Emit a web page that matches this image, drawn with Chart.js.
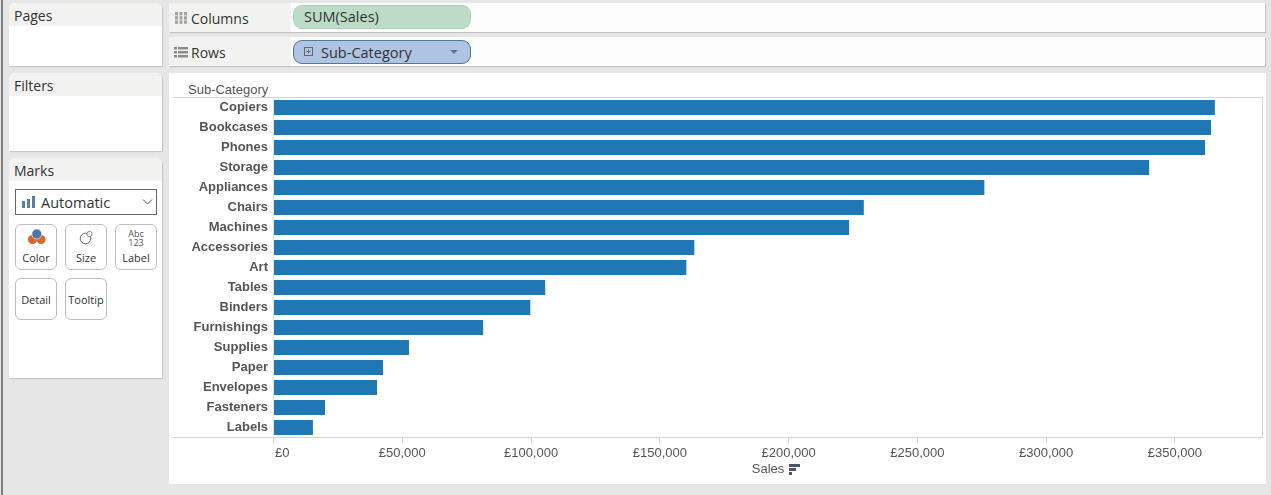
<!DOCTYPE html>
<html><head><meta charset="utf-8">
<script src="https://cdn.jsdelivr.net/npm/chart.js@4"></script>
<style>
html,body{margin:0;padding:0;width:1271px;height:495px;overflow:hidden;background:#e6e6e6;font-family:"Open Sans","Noto Sans",sans-serif;color:#333}
.a{position:absolute;box-sizing:border-box}
.panel{background:#fff;border-radius:6px 6px 0 0;box-shadow:1px 1px 1px #c4c4c4}
.head{left:0;top:0;right:0;background:#f2f2f0;border-radius:6px 6px 0 0;padding-left:5px;font-size:14px;line-height:26px;color:#333}
.shelf{background:#fdfdfd;box-shadow:1px 1px 1px #c4c4c4;left:169px;width:1096px}
.shelfhead{left:0;top:0;bottom:0;width:122px;background:#f2f2f0;font-size:14px;line-height:32px;padding-left:22px;color:#333}
.pill{left:293px;width:178px;border-radius:9px;font-size:14.5px;color:#333;white-space:nowrap}
.card{width:42px;border:1px solid #bdbdbd;border-radius:6px;background:#fff;font-size:11px;text-align:center;color:#333}
.card span{position:absolute;left:0;right:0}
.line{background:#d4d4d4}
svg{position:absolute;display:block}
</style></head><body>
<div class="a" style="left:1px;top:0;width:2px;height:495px;background:#7f7f7f"></div>

<div class="a panel" style="left:9px;top:3px;width:153px;height:63px"><div class="a head" style="height:23px">Pages</div></div>
<div class="a panel" style="left:9px;top:73px;width:153px;height:78px"><div class="a head" style="height:23px">Filters</div></div>
<div class="a panel" style="left:9px;top:158px;width:153px;height:220px"><div class="a head" style="height:23px">Marks</div></div>

<div class="a" style="left:15px;top:189px;width:142px;height:26px;background:#fff;border:1px solid #666;font-size:14.5px;line-height:25px;padding-left:25px;color:#333">Automatic</div>
<svg style="left:21px;top:196px" width="15" height="13"><rect x="1" y="5" width="3" height="7" fill="#5b7f9e"/><rect x="6" y="3" width="3" height="9" fill="#5b7f9e"/><rect x="11" y="0" width="3" height="12" fill="#5b7f9e"/></svg>
<svg style="left:142px;top:198px" width="12" height="8"><path d="M1 1.5L5.5 6L10 1.5" fill="none" stroke="#555" stroke-width="1"/></svg>

<div class="a card" style="left:15px;top:224px;height:46px"><span style="top:25px">Color</span></div>
<svg style="left:28px;top:229px" width="18" height="16"><circle cx="4.5" cy="10.5" r="4.5" fill="#d9662b"/><circle cx="13" cy="10.5" r="4.5" fill="#d9662b"/><circle cx="8.8" cy="5" r="5" fill="#4e79a7" stroke="#fff" stroke-width="0.6"/></svg>
<div class="a card" style="left:65px;top:224px;height:46px"><span style="top:25px">Size</span></div>
<svg style="left:79px;top:230px" width="15" height="15"><circle cx="6.5" cy="8.5" r="5.3" fill="#fff" stroke="#666"/><circle cx="10.5" cy="4" r="2.6" fill="#fff" stroke="#666" stroke-width=".8"/></svg>
<div class="a card" style="left:115px;top:224px;height:46px"><span style="top:25px">Label</span><span style="top:4px;font-size:9px;line-height:9px;height:9px;color:#555">Abc</span><span style="top:13px;font-size:9px;line-height:9px;height:9px;color:#555">123</span></div>
<div class="a card" style="left:15px;top:278px;height:42px"><span style="top:13px">Detail</span></div>
<div class="a card" style="left:65px;top:278px;height:42px"><span style="top:13px">Tooltip</span></div>

<div class="a shelf" style="top:3px;height:29px"><div class="a shelfhead">Columns</div></div>
<svg style="left:175px;top:12px" width="12" height="13"><g fill="#a3a3a3"><rect x="0" y="0" width="3" height="3.4"/><rect x="4.5" y="0" width="3" height="3.4"/><rect x="9" y="0" width="3" height="3.4"/><rect x="0" y="4.2" width="3" height="3.4"/><rect x="4.5" y="4.2" width="3" height="3.4"/><rect x="9" y="4.2" width="3" height="3.4"/><rect x="0" y="8.4" width="3" height="3.4"/><rect x="4.5" y="8.4" width="3" height="3.4"/><rect x="9" y="8.4" width="3" height="3.4"/></g></svg>
<div class="a pill" style="top:5px;height:24px;background:#bcdcc8;border:1px solid #aed2bb;line-height:21px;padding-left:10px">SUM(Sales)</div>

<div class="a shelf" style="top:37px;height:29px"><div class="a shelfhead">Rows</div></div>
<svg style="left:174px;top:47px" width="14" height="11"><g fill="#8c8c8c"><rect x="0" y="0" width="3" height="2.5"/><rect x="4" y="0" width="10" height="2.5"/><rect x="0" y="4" width="3" height="2.5"/><rect x="4" y="4" width="10" height="2.5"/><rect x="0" y="8" width="3" height="2.5"/><rect x="4" y="8" width="10" height="2.5"/></g></svg>
<div class="a pill" style="top:40px;height:24px;background:#aec4e2;border:1px solid #4f7a9a;line-height:23px;padding-left:27px">Sub-Category</div>
<svg style="left:304px;top:47px" width="10" height="10"><rect x=".5" y=".5" width="8" height="8" fill="none" stroke="#666"/><path d="M2.5 4.5h4M4.5 2.5v4" stroke="#666"/></svg>
<svg style="left:450px;top:50px" width="9" height="5"><path d="M0 0h8L4 4z" fill="#4f7a9a"/></svg>

<div class="a" style="left:169px;top:73px;width:1097px;height:411px;background:#fff"></div>
<div class="a" style="left:188px;top:82px;font:13px 'Liberation Sans',Arial,sans-serif;line-height:15px;color:#555">Sub-Category</div>
<div class="a line" style="left:173px;top:97px;width:1090px;height:1px"></div>
<div class="a line" style="left:173px;top:437px;width:1090px;height:1px"></div>
<div class="a line" style="left:1262px;top:97px;width:1px;height:341px"></div>

<canvas id="c" class="a" width="1093" height="410" style="left:170px;top:74px;width:1093px;height:410px"></canvas>
<svg style="left:789px;top:464px" width="12" height="12"><g fill="#4a5568"><rect x="0" y="0" width="11" height="3"/><rect x="0" y="4" width="7" height="3"/><rect x="0" y="8" width="3" height="3"/></g></svg>

<script>
const categories = ["Copiers","Bookcases","Phones","Storage","Appliances","Chairs","Machines","Accessories","Art","Tables","Binders","Furnishings","Supplies","Paper","Envelopes","Fasteners","Labels"];
const sales = [365500,364000,361700,340000,276000,229200,223500,163400,160300,105500,99700,81400,52600,42500,40200,20000,15300];
const axisMax = 384000;
const tickValues = [0,50000,100000,150000,200000,250000,300000,350000];
const axisTitle = "Sales";

const shiftFirstLabel = {
  id: 'shiftFirstLabel',
  beforeDraw(chart) {
    const s = chart.scales.x;
    const items = s.getLabelItems();
    if (items.length) {
      items[0].options.textAlign = 'left';
      items[0].options.translation[0] = s.getPixelForValue(0) + 1.5;
    }
  }
};

new Chart(document.getElementById('c'), {
  type: 'bar',
  data: { labels: categories, datasets: [{ label: 'Sales', data: sales, backgroundColor: '#1f77b4', borderWidth: 0, barPercentage: 0.75, categoryPercentage: 1 }] },
  plugins: [shiftFirstLabel],
  options: {
    indexAxis: 'y', responsive: false, animation: false, devicePixelRatio: 1,
    layout: { padding: { top: 23.5, right: 0.5, left: 0, bottom: 0 } },
    plugins: { legend: { display: false }, tooltip: { enabled: false } },
    scales: {
      x: {
        min: 0, max: axisMax,
        afterBuildTicks(s) { s.ticks = tickValues.map(v => ({ value: v })); },
        afterFit(s) { s.height = 46.5; s.paddingLeft = 0; s.paddingRight = 0; },
        grid: { drawOnChartArea: false, drawTicks: true, tickLength: 5, color: '#d4d4d4' },
        border: { display: false },
        ticks: { maxRotation: 0, autoSkip: false, padding: 3, color: '#555',
          font: { family: '"Liberation Sans",Arial,sans-serif', size: 13 },
          callback: v => '£' + Number(v).toLocaleString('en-GB') },
        title: { display: true, text: axisTitle, color: '#555', padding: { top: 3, bottom: 7 },
          font: { family: '"Liberation Sans",Arial,sans-serif', size: 13 } }
      },
      y: {
        afterFit(s) { s.width = 103.5; },
        grid: { display: false, drawTicks: false },
        border: { display: true, color: '#e4e4e4' },
        ticks: { padding: 5.5, color: '#555', autoSkip: false,
          font: { family: '"Liberation Sans",Arial,sans-serif', size: 13, weight: 'bold' } }
      }
    }
  }
});
</script>
</body></html>
